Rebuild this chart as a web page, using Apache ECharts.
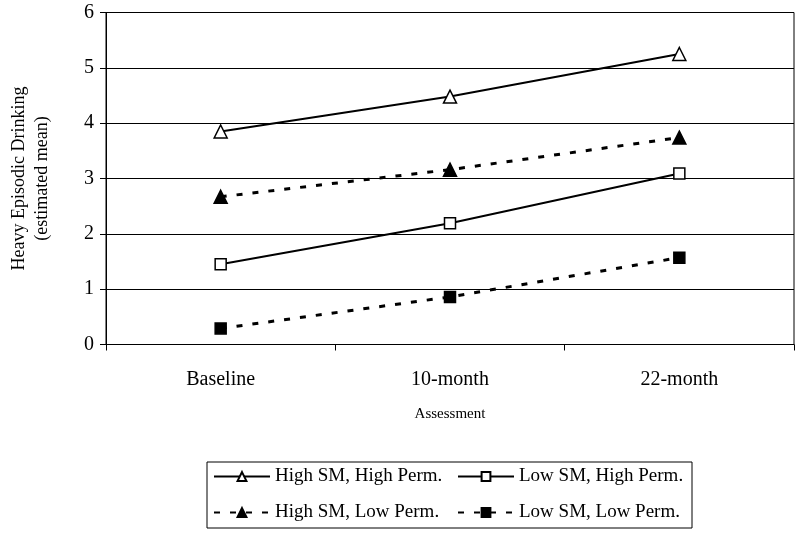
<!DOCTYPE html>
<html>
<head>
<meta charset="utf-8">
<script src="https://cdn.jsdelivr.net/npm/echarts@6/dist/echarts.min.js"></script>
<style>html,body{margin:0;padding:0;background:#fff;}#c{width:800px;height:533px;}</style>
</head>
<body>
<div id="c"></div>
<script>
const categories = ['Baseline', '10-month', '22-month'];
const seriesNames = ['High SM, High Perm.', 'Low SM, High Perm.', 'High SM, Low Perm.', 'Low SM, Low Perm.'];
const highSMHighPerm = [3.85, 4.48, 5.25];
const lowSMHighPerm = [1.45, 2.19, 3.09];
const highSMLowPerm = [2.67, 3.16, 3.74];
const lowSMLowPerm = [0.29, 0.86, 1.57];
const yTicks = [0, 1, 2, 3, 4, 5, 6];

const FONT = 'Liberation Serif';
const chart = echarts.init(document.getElementById('c'), null, {renderer: 'canvas'});

function mk(name, data, dashed, symbol, filled, size) {
  return {
    name: name, type: 'line', data: data,
    symbol: symbol, symbolSize: size,
    lineStyle: {color: '#000', width: dashed ? 3 : 2, type: dashed ? [6, 10] : 'solid'},
    itemStyle: {color: filled ? '#000' : '#fff', borderColor: '#000', borderWidth: 1.5},
    emphasis: {disabled: true},
    animation: false
  };
}

chart.setOption({
  backgroundColor: '#fff',
  animation: false,
  grid: {left: 106, right: 6, top: 12.5, bottom: 188.5, containLabel: false, outerBoundsMode: 'none',
         show: true, borderColor: '#000', borderWidth: 1},
  xAxis: {
    type: 'category', data: categories, boundaryGap: true,
    axisLine: {lineStyle: {color: '#000', width: 1}},
    axisTick: {show: true, length: 6, lineStyle: {color: '#000'}},
    axisLabel: {color: '#000', fontFamily: FONT, fontSize: 20, margin: 25},
    name: 'Assessment', nameLocation: 'middle', nameGap: 62,
    nameTextStyle: {color: '#000', fontFamily: FONT, fontSize: 15}
  },
  yAxis: {
    type: 'value', min: yTicks[0], max: yTicks[yTicks.length - 1], interval: 1,
    axisLine: {show: true, lineStyle: {color: '#000', width: 1}},
    axisTick: {show: true, length: 6, lineStyle: {color: '#000'}},
    axisLabel: {color: '#000', fontFamily: FONT, fontSize: 20, margin: 12},
    splitLine: {show: true, lineStyle: {color: '#000', width: 1}},
    name: 'Heavy Episodic Drinking\n(estimated mean)', nameLocation: 'middle', nameGap: 52,
    nameTextStyle: {color: '#000', fontFamily: FONT, fontSize: 18, lineHeight: 23}
  },
  legend: {
    left: 207, top: 462, width: 530, orient: 'horizontal',
    data: [seriesNames[0], seriesNames[1], seriesNames[2], seriesNames[3]],
    itemWidth: 56, itemHeight: 11, itemGap: 13,
    textStyle: {color: '#000', fontFamily: FONT, fontSize: 19, lineHeight: 23, width: 169},
    borderColor: '#000', borderWidth: 1, borderRadius: 0,
    padding: [3, 4, 4, 6],
    selectedMode: false
  },
  series: [
    mk(seriesNames[0], highSMHighPerm, false, 'triangle', false, 13),
    mk(seriesNames[1], lowSMHighPerm, false, 'rect', false, 11),
    mk(seriesNames[2], highSMLowPerm, true, 'triangle', true, 13),
    mk(seriesNames[3], lowSMLowPerm, true, 'rect', true, 11)
  ]
});
</script>
</body>
</html>
